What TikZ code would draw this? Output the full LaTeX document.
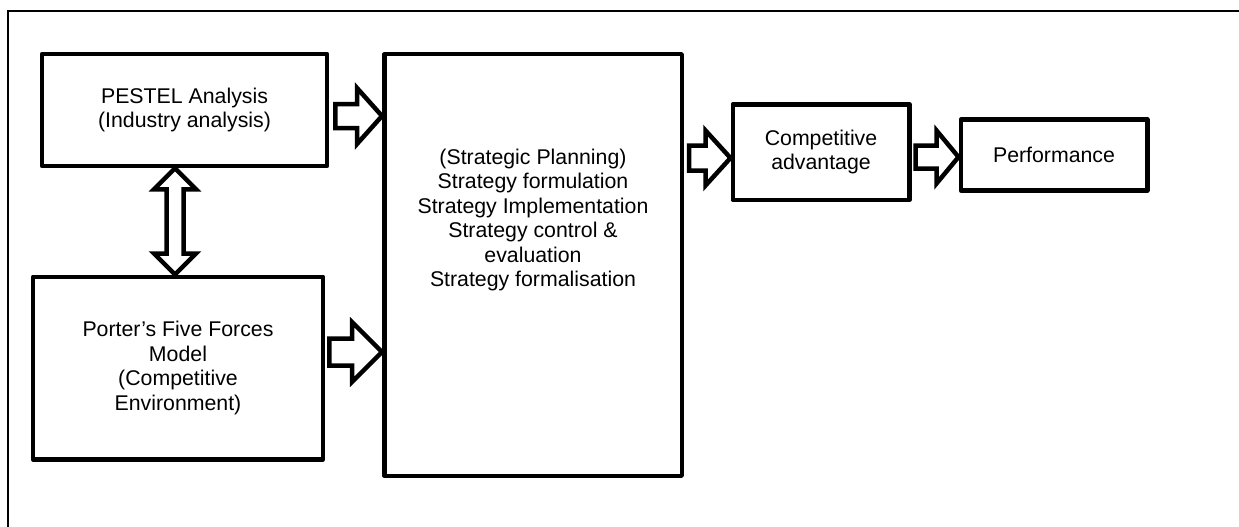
\documentclass[tikz,border=0pt]{standalone}
\usepackage{fontspec}
\setmainfont{Liberation Sans}
\usetikzlibrary{calc,backgrounds}

% horizontal block arrow: tail, tip, shaft half-width, head half-width, head length
\newcommand\hblockarrow[5]{%
  \draw[blockarrow] ($(#1)+(0,-#3)$) -- ($(#2)+(-#5,-#3)$) -- ($(#2)+(-#5,-#4)$)
    -- (#2) -- ($(#2)+(-#5,#4)$) -- ($(#2)+(-#5,#3)$) -- ($(#1)+(0,#3)$) -- cycle;}

\begin{document}
\begin{tikzpicture}[x=1pt,y=-1pt,
  txt/.style={font=\fontsize{21.3}{24.5}\selectfont,align=center,inner sep=0pt},
  box/.style={txt,draw,line width=4.5pt,line join=round},
  blockarrow/.style={draw,fill=white,line width=4.5pt,line join=miter}]
\useasboundingbox (0,0) rectangle (1239,527);

% frame along the top and left
\draw[line width=2pt] (8.3,530) -- (8.3,11) -- (1242,11);

% boxes
\node[box,minimum width=285pt,minimum height=112pt] (pestel) at (184.5,110)
  {PESTEL Analysis\\(Industry analysis)};
\node[box,minimum width=290pt,minimum height=182.5pt] (porter) at (178,368)
  {Porter’s Five Forces\\Model\\(Competitive\\Environment)};
\node[box,minimum width=297.5pt,minimum height=421.5pt] (plan) at (533,265) {};
\node[txt] (plantext) at (533,220)
  {(Strategic Planning)\\Strategy formulation\\Strategy Implementation\\Strategy control \&\\evaluation\\Strategy formalisation};
\node[box,minimum width=176.5pt,minimum height=95.5pt] (adv) at (821,152)
  {Competitive\\advantage};
\node[box,minimum width=186.5pt,minimum height=71pt] (perf) at (1054,155)
  {Performance};

% anchor points of the block arrows
\coordinate (t1) at ($(pestel.east)+(6,6)$);
\coordinate (h1) at (plan.west |- t1);
\coordinate (t2) at ($(porter.east)+(4,-16)$);
\coordinate (h2) at (plan.west |- t2);
\coordinate (t3) at ($(plan.east |- adv.west)+(5,6)$);
\coordinate (h3) at (adv.west |- t3);
\coordinate (t4) at ($(adv.east)+(4,5)$);
\coordinate (h4) at (perf.west |- t4);
\coordinate (v1) at ($(pestel.south)+(-9.5,0)$);
\coordinate (v2) at (porter.north -| v1);

\begin{scope}[on background layer]
  \hblockarrow{t1}{h1}{12}{28}{25}
  \hblockarrow{t2}{h2}{13.5}{30}{30}
  \hblockarrow{t3}{h3}{12.5}{27.5}{25}
  \hblockarrow{t4}{h4}{11.5}{26.5}{22}
  % two-headed arrow between the analysis boxes
  \draw[blockarrow] (v1) -- ++(21,21) -- ++(-12.5,0) -- ($(v2)+(8.5,-21)$)
    -- ++(12.5,0) -- (v2) -- ++(-21,-21) -- ++(12.5,0)
    -- ($(v1)+(-8.5,21)$) -- ++(-12.5,0) -- cycle;
\end{scope}
\end{tikzpicture}
\end{document}
